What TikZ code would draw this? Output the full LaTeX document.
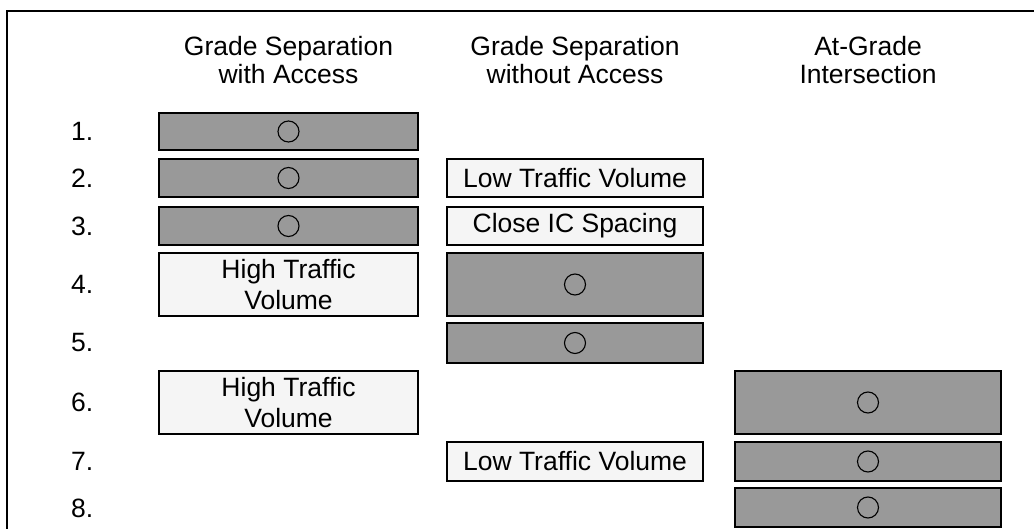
\documentclass[tikz,border=0pt]{standalone}
\usepackage{fontspec}
\setmainfont{Liberation Sans}
\usetikzlibrary{positioning}

\begin{document}
\begin{tikzpicture}[x=1pt,y=-1pt,
	every node/.style={inner sep=0pt, font=\fontsize{26.5}{28}\selectfont},
	head/.style={align=center, anchor=north},
	rownum/.style={anchor=west},
	dark/.style={draw, line width=1.6pt, fill=black!40},
	light/.style={draw, line width=1.6pt, fill=black!4, align=center, font=\fontsize{26.5}{31}\selectfont},
	ring/.style={circle, draw, line width=1.1pt, minimum size=21pt}]
				\useasboundingbox (0,0) rectangle (1034,529);
				% frame
				\draw [line width=2pt] (7,529) -- (7,11) -- (1034,11);
				% column heads
				\node [head] (h1) at (288.5,36) {Grade Separation\\with Access};
				\node [head] (h2) at (575,36) {Grade Separation\\without Access};
				\node [head] (h3) at (868,36) {At-Grade\\Intersection};
				% row numbers
				\node [rownum] (n1) at (71,131.5) {1.};
				\node [rownum] (n2) at (71,178) {2.};
				\node [rownum] (n3) at (71,226) {3.};
				\node [rownum] (n4) at (71,284.5) {4.};
				\node [rownum] (n5) at (71,343) {5.};
				\node [rownum] (n6) at (71,402.5) {6.};
				\node [rownum] (n7) at (71,461.5) {7.};
				\node [rownum] (n8) at (71,508) {8.};
				% with access
				\node [dark, minimum width=259pt, minimum height=37pt] (a1) at (288.5,131.5) {};
				\node [ring] (a1r) at (a1) {};
				\node [dark, minimum width=259pt, minimum height=38pt] (a2) at (288.5,178) {};
				\node [ring] (a2r) at (a2) {};
				\node [dark, minimum width=259pt, minimum height=38pt] (a3) at (288.5,226) {};
				\node [ring] (a3r) at (a3) {};
				\node [light, minimum width=259pt, minimum height=63pt] (a4) at (288.5,284.5) {High Traffic\\Volume};
				\node [light, minimum width=259pt, minimum height=63pt] (a6) at (288.5,402.5) {High Traffic\\Volume};
				% without access
				\node [light, minimum width=256pt, minimum height=38pt] (b2) at (575,178) {Low Traffic Volume};
				\node [light, minimum width=256pt, minimum height=38pt] (b3) at (575,226) {Close IC Spacing};
				\node [dark, minimum width=256pt, minimum height=63pt] (b4) at (575,284.5) {};
				\node [ring] (b4r) at (b4) {};
				\node [dark, minimum width=256pt, minimum height=40pt] (b5) at (575,343) {};
				\node [ring] (b5r) at (b5) {};
				\node [light, minimum width=256pt, minimum height=39pt] (b7) at (575,461.5) {Low Traffic Volume};
				% at-grade
				\node [dark, minimum width=266pt, minimum height=63pt] (c6) at (868,402.5) {};
				\node [ring] (c6r) at (c6) {};
				\node [dark, minimum width=266pt, minimum height=39pt] (c7) at (868,461.5) {};
				\node [ring] (c7r) at (c7) {};
				\node [dark, minimum width=266pt, minimum height=39pt] (c8) at (868,507.5) {};
				\node [ring] (c8r) at (c8) {};
\end{tikzpicture}
\end{document}
